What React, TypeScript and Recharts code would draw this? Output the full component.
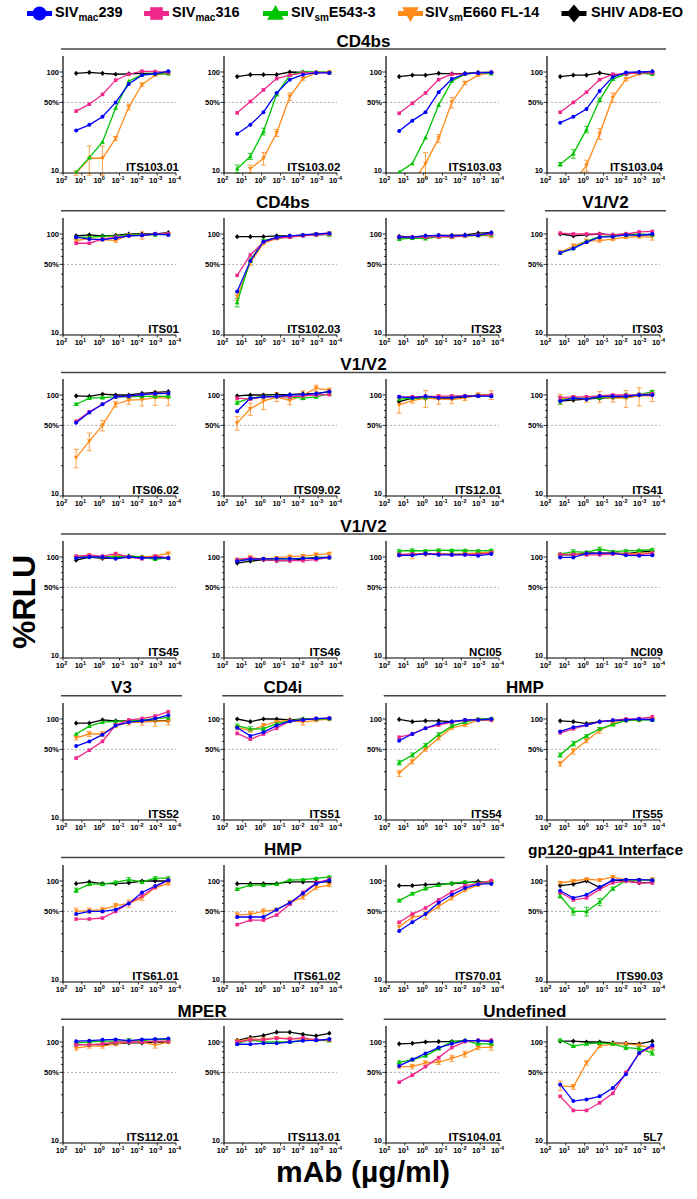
import { LineChart, Line, XAxis, YAxis, ReferenceLine, ErrorBar } from "recharts";

const FONT = '"Liberation Sans", Arial, Helvetica, sans-serif';

// antibody concentrations (µg/ml), 5-fold dilutions
const conc = [20, 4, 0.8, 0.16, 0.032, 0.0064, 0.00128, 0.000256];

const panelNames = [
  "ITS103.01", "ITS103.02", "ITS103.03", "ITS103.04",
  "ITS01", "ITS102.03", "ITS23", "ITS03",
  "ITS06.02", "ITS09.02", "ITS12.01", "ITS41",
  "ITS45", "ITS46", "NCI05", "NCI09",
  "ITS52", "ITS51", "ITS54", "ITS55",
  "ITS61.01", "ITS61.02", "ITS70.01", "ITS90.03",
  "ITS112.01", "ITS113.01", "ITS104.01", "5L7",
];

// %RLU, one row per panel in the order above
const mac239 = [
  [26.4, 30, 36, 50, 76, 93, 96, 102],
  [24.5, 30, 40, 62, 84, 94, 98, 98],
  [26, 33, 40, 63, 85, 96, 98, 99],
  [31.5, 36, 43, 65, 89, 99, 100, 101],
  [93, 89, 88, 91, 96, 97, 100, 98],
  [27, 54, 84, 93, 96, 98, 100, 102],
  [93, 93, 96, 97, 96, 97, 97, 103],
  [65, 72, 83, 93, 94, 98, 97, 100],
  [53, 67, 81, 96, 98, 101, 103, 104],
  [69, 93, 96, 97, 100, 101, 103, 108],
  [96, 94, 97, 94, 94, 97, 98, 97],
  [87, 93, 91, 97, 97, 97, 100, 100],
  [98, 100, 100, 96, 100, 98, 98, 98],
  [91, 95, 96, 96, 96, 97, 97, 99],
  [104, 104, 108, 105, 105, 105, 103, 107],
  [99, 99, 108, 109, 109, 104, 103, 104],
  [54, 60, 70, 86, 93, 96, 101, 109],
  [82, 68, 74, 86, 95, 98, 101, 102],
  [61, 71, 81, 90, 94, 98, 98, 100],
  [75, 83, 87, 94, 97, 98, 100, 98],
  [47, 50, 50, 52, 60, 77, 89, 102],
  [44, 44, 44, 52, 61, 75, 94, 102],
  [32, 39, 47, 61, 73, 85, 93, 94],
  [80, 68, 73, 87, 102, 103, 103, 102],
  [102, 103, 105, 106, 103, 106, 107, 108],
  [95, 95, 97, 97, 100, 103, 104, 107],
  [58, 67, 77, 88, 96, 103, 103, 101],
  [38, 26, 27, 29, 35, 48, 78, 93],
];

const mac316 = [
  [41, 48, 60, 83, 95, 102, 101, 99],
  [39.4, 51, 66.5, 86, 93, 98, 99, 98],
  [39, 49, 62, 84, 95, 96, 98, 99],
  [40, 50, 63, 84, 95, 96, 98, 98],
  [81, 81, 89, 93, 96, 97, 100, 100],
  [39, 62, 83, 91, 93, 96, 98, 100],
  [93, 93, 93, 94, 94, 96, 98, 100],
  [102, 100, 100, 100, 98, 100, 105, 106],
  [55, 68, 81, 96, 97, 101, 103, 104],
  [93, 91, 96, 96, 96, 98, 100, 101],
  [96, 96, 97, 97, 98, 98, 98, 100],
  [94, 96, 96, 98, 100, 100, 101, 103],
  [102, 104, 102, 108, 100, 96, 102, 98],
  [94, 98, 94, 92, 92, 92, 94, 99],
  [106, 107, 108, 108, 105, 106, 106, 110],
  [106, 106, 105, 105, 107, 107, 105, 109],
  [41, 49, 60, 87, 98, 101, 107, 118],
  [72, 63, 71, 81, 95, 98, 101, 102],
  [66, 71, 81, 87, 93, 97, 98, 98],
  [73, 80, 87, 94, 97, 100, 101, 105],
  [42, 42, 43, 50, 60, 71, 87, 102],
  [37, 41, 41, 46, 59, 77, 96, 104],
  [39, 47, 54, 65, 78, 90, 94, 101],
  [77, 65, 68, 83, 96, 100, 96, 96],
  [94, 94, 96, 100, 100, 100, 102, 102],
  [100, 105, 105, 109, 107, 110, 105, 105],
  [40, 47, 57, 70, 88, 101, 104, 104],
  [29, 21, 21, 25, 31, 50, 77, 90],
];

const smE543 = [
  [10.2, 14.2, 20.3, 44, 81, 94, 96, 96],
  [11, 14.6, 25.8, 60, 93, 101, 100, 99],
  [10.2, 12.4, 22.4, 47, 81, 95, 99, 96],
  [12.2, 15.5, 27, 53, 85, 96, 98, 95],
  [93, 93, 95, 96, 98, 98, 98, 100],
  [21, 55, 86, 91, 94, 98, 99, 98],
  [89, 91, 90, 94, 94, 96, 97, 98],
  [65, 72, 85, 94, 96, 98, 100, 98],
  [81, 93, 94, 96, 96, 97, 97, 97],
  [84, 93, 97, 97, 96, 93, 96, 103],
  [91, 93, 94, 96, 96, 98, 98, 98],
  [89, 93, 93, 94, 97, 98, 101, 108],
  [100, 100, 100, 100, 102, 100, 95, 98],
  [95, 96, 96, 96, 96, 97, 98, 99],
  [115, 116, 115, 117, 116, 116, 115, 116],
  [107, 113, 111, 120, 113, 115, 116, 118],
  [71, 85, 93, 95, 96, 98, 101, 103],
  [86, 80, 80, 90, 96, 100, 100, 101],
  [37, 44, 55, 70, 85, 93, 100, 101],
  [44, 57, 68, 80, 88, 97, 98, 98],
  [81, 93, 93, 97, 103, 98, 107, 107],
  [83, 91, 91, 93, 102, 103, 106, 110],
  [64, 75, 84, 91, 95, 98, 96, 99],
  [71, 50, 50, 62, 84, 102, 102, 102],
  [98, 100, 102, 102, 103, 103, 106, 106],
  [97, 105, 100, 100, 100, 104, 104, 103],
  [63, 67, 73, 86, 101, 103, 96, 96],
  [104, 91, 96, 98, 96, 88, 86, 78],
];

const smE660 = [
  [10, 14, 14, 22, 45, 75, 93, 97],
  [null, 11, 14, 25, 57, 86, 98, 100],
  [7, 8, 12.4, 22, 50, 78, 93, 98],
  [6, 8, 11.9, 24.5, 56, 85, 96, 98],
  [86, 90, 88, 86, 98, 97, 100, 100],
  [24, 52, 81, 90, 93, 97, 100, 102],
  [91, 91, 93, 94, 93, 96, 97, 96],
  [66, 76, 85, 86, 89, 93, 94, 93],
  [24, 35, 50, 81, 89, 90, 94, 93],
  [53, 73, 87, 96, 88, 100, 117, 112],
  [80, 88, 93, 91, 90, 93, 100, 100],
  [91, 93, 91, 96, 93, 93, 98, 98],
  [100, 104, 98, 104, 100, 100, 102, 109],
  [93, 98, 96, 98, 101, 102, 105, 108],
  [104, 106, 108, 106, 106, 108, 110, 112],
  [105, 107, 107, 109, 110, 107, 109, 110],
  [65, 71, 71, 86, 92, 93, 95, 95],
  [82, 77, 86, 94, 97, 93, 97, 100],
  [29, 38, 50, 65, 82, 87, 98, 98],
  [36, 48, 61, 77, 90, 97, 98, 100],
  [50, 51, 52, 57, 60, 68, 86, 94],
  [46, 47, 50, 52, 61, 69, 86, 91],
  [35, 44, 46, 56, 68, 81, 91, 98],
  [96, 100, 104, 102, 110, 102, 102, 104],
  [87, 91, 91, 96, 100, 100, 93, 100],
  [102, 107, 107, 110, 108, 107, 104, 104],
  [57, 57, 62, 63, 69, 76, 88, 89],
  [37, 36, 62, 91, 96, 96, 93, 87],
];

const shivAD8 = [
  [97, 99, 97, 95, 96, 97, 97, 98],
  [90, 94, 94, 94, 100, 99, 99, 99],
  [90, 93, 93, 97, 96, 97, 99, 99],
  [90, 93, 93, 98, 93, 96, 99, 101],
  [96, 98, 96, 97, 100, 100, 100, 103],
  [94, 94, 94, 96, 96, 97, 98, 100],
  [95, 93, 96, 97, 97, 98, 102, 103],
  [100, 96, 98, 100, 98, 100, 98, 98],
  [98, 97, 102, 100, 100, 104, 106, 108],
  [98, 100, 100, 101, 101, 103, 103, 108],
  [86, 93, 93, 93, 93, 96, 100, 100],
  [87, 89, 91, 93, 94, 96, 100, 100],
  [93, 100, 97, 98, 102, 100, 100, 98],
  [87, 91, 94, 92, 92, 96, 99, 99],
  [105, 107, 107, 107, 107, 107, 108, 110],
  [105, 105, 110, 109, 110, 108, 112, 114],
  [91, 91, 98, 96, 96, 96, 96, 96],
  [100, 94, 100, 100, 98, 100, 100, 100],
  [99, 94, 96, 96, 94, 97, 98, 98],
  [96, 94, 90, 94, 96, 97, 98, 100],
  [94, 98, 94, 94, 96, 100, 100, 100],
  [94, 94, 94, 94, 98, 98, 98, 98],
  [90, 90, 92, 93, 94, 96, 99, 94],
  [90, 93, 100, 86, 102, 100, 96, 97],
  [94, 94, 94, 96, 98, 98, 100, 100],
  [104, 111, 116, 125, 125, 119, 115, 122],
  [96, 97, 100, 101, 101, 103, 103, 103],
  [102, 102, 100, 100, 98, 97, 96, 102],
];

// error bars (± %RLU), null where none are visible
const smE660Err = [
  [0.5, 4.5, 4.5, 1, 3, 3, 2, 1],
  [0, 1, 2, 2, 5, 3, 2, 1],
  [0, 0, 3.5, 2, 6, 3, 2, 1],
  [0, 0, 1.5, 3, 6, 3, 1, 1],
  [2, 2, 3, 3, 3, 8, 2, 2],
  [2, 3, 3, 2, 2, 2, 2, 2],
  [3, 3, 3, 3, 3, 3, 3, 4],
  [3, 4, 4, 3, 3, 3, 3, 6],
  [5, 7, 6, 5, 8, 12, 15, 14],
  [8, 10, 15, 10, 8, 10, 8, 5],
  [14, 5, 18, 10, 8, 5, 5, 10],
  [10, 5, 6, 12, 8, 18, 20, 12],
  [2, 3, 3, 3, 2, 2, 2, 2],
  [3, 6, 3, 3, 3, 4, 5, 3],
  [3, 10, 3, 3, 3, 3, 3, 3],
  [3, 3, 3, 3, 3, 3, 3, 3],
  [3, 4, 4, 4, 5, 6, 10, 8],
  [4, 3, 4, 3, 3, 6, 3, 3],
  [2, 2, 2, 3, 3, 2, 2, 2],
  [2, 3, 3, 5, 3, 2, 2, 2],
  [4, 3, 3, 3, 5, 4, 3, 3],
  [3, 3, 3, 2, 3, 3, 4, 3],
  [3, 3, 4, 3, 3, 2, 2, 2],
  [3, 3, 3, 3, 3, 3, 3, 3],
  [4, 4, 4, 3, 3, 3, 6, 3],
  [3, 3, 3, 3, 3, 3, 3, 3],
  [2, 3, 3, 3, 5, 5, 4, 6],
  [4, 2, 3, 3, 3, 3, 4, 3],
];

const smE543Err = [
  null, [1, 1, 2, 2, 2, 1, 1, 1], null, [0.5, 1.5, 2, 2, 2, 1, 1, 1],
  null, [2, 3, 2, 2, 2, 1, 1, 1], null, null,
  [2, 2, 2, 2, 2, 2, 2, 2], [3, 3, 3, 3, 3, 3, 3, 3], null, [8, 3, 3, 3, 3, 6, 3, 3],
  null, null, [3, 4, 3, 3, 3, 3, 3, 3], [2, 5, 3, 5, 3, 3, 3, 3],
  null, [3, 4, 3, 3, 3, 2, 2, 2], [2, 2, 2, 3, 3, 2, 2, 2], [2, 3, 2, 2, 2, 2, 2, 2],
  [4, 3, 3, 3, 5, 3, 3, 3], [2, 2, 2, 2, 2, 2, 2, 2], [2, 2, 2, 2, 2, 2, 2, 2], [3, 4, 5, 5, 3, 2, 2, 2],
  [2, 2, 2, 2, 5, 2, 2, 2], null, [2, 2, 2, 2, 2, 2, 2, 2], [3, 2, 3, 3, 3, 4, 4, 4],
];

// epitope group titles and the [row, firstCol, lastCol] they span
const groupTitles = ["CD4bs", "CD4bs", "V1/V2", "V1/V2", "V1/V2", "V3", "CD4i", "HMP", "HMP", "gp120-gp41 Interface", "MPER", "Undefined"];
const groupSpans = [[0, 0, 3], [1, 0, 2], [1, 3, 3], [2, 0, 3], [3, 0, 3], [4, 0, 0], [4, 1, 1], [4, 2, 3], [5, 0, 2], [5, 3, 3], [6, 0, 1], [6, 2, 3]];

const xTicks = [100, 10, 1, 0.1, 0.01, 0.001, 0.0001];
const yTicks = [10, 20, 30, 40, 50, 60, 70, 80, 90, 100];

const series = [
  { key: "shiv", color: "#000000", shape: "diamond", values: shivAD8, err: null },
  { key: "e660", color: "#FF8C1A", shape: "down", values: smE660, err: smE660Err },
  { key: "e543", color: "#00C400", shape: "up", values: smE543, err: smE543Err },
  { key: "m316", color: "#F0288C", shape: "square", values: mac316, err: null },
  { key: "m239", color: "#0000FF", shape: "circle", values: mac239, err: null },
];

const COL_X = [63, 224.3, 385.7, 547];
const ROW_STEP = 161.7;
const PLOT_TOP = 56;
const PLOT_H = 117;

function Marker({ shape, x, y, r, color }) {
  if (shape === "circle") return <circle cx={x} cy={y} r={r} fill={color} />;
  if (shape === "square") return <rect x={x - r * 0.9} y={y - r * 0.9} width={r * 1.8} height={r * 1.8} fill={color} />;
  if (shape === "up")
    return <polygon points={`${x},${y - r * 1.2} ${x - r * 1.2},${y + r * 0.9} ${x + r * 1.2},${y + r * 0.9}`} fill={color} />;
  if (shape === "down")
    return <polygon points={`${x},${y + r * 1.2} ${x - r * 1.2},${y - r * 0.9} ${x + r * 1.2},${y - r * 0.9}`} fill={color} />;
  return <polygon points={`${x},${y - r * 1.3} ${x + r * 1.1},${y} ${x},${y + r * 1.3} ${x - r * 1.1},${y}`} fill={color} />;
}

const makeDot = (shape, color) => (props) => {
  const { cx, cy, index } = props;
  if (cx == null || cy == null || Number.isNaN(cy)) return <g key={index} />;
  return (
    <g key={index}>
      <Marker shape={shape} x={cx} y={cy} r={2} color={color} />
    </g>
  );
};

const XTick = ({ x, y, payload }) => {
  const exp = Math.round(Math.log10(payload.value));
  return (
    <g>
      <line x1={x} x2={x} y1={y} y2={y + 2.5} stroke="#000" strokeWidth={0.8} />
      <text x={x - 1.5} y={y + 9.8} textAnchor="middle" fontSize={7.5} fontWeight="bold" fontFamily={FONT} fill="#000">
        10
        <tspan dy={-3} fontSize={5.5}>
          {exp}
        </tspan>
      </text>
    </g>
  );
};

const YTick = ({ x, y, payload }) => {
  const v = payload.value;
  const label = v === 10 ? "10" : v === 50 ? "50%" : v === 100 ? "100" : "";
  return (
    <g>
      <line x1={x} x2={x - (label ? 3.5 : 2)} y1={y} y2={y} stroke="#000" strokeWidth={0.8} />
      {label && (
        <text
          x={x - 4}
          y={v === 10 ? y - 0.3 : y + 2.7}
          textAnchor="end"
          fontSize={7.5}
          fontWeight="bold"
          fontFamily={FONT}
          fill="#000"
        >
          {label}
        </text>
      )}
    </g>
  );
};

function Panel({ idx }) {
  const row = Math.floor(idx / 4);
  const col = idx % 4;
  const data = conc.map((x, i) => {
    const d = { x };
    series.forEach((s) => {
      d[s.key] = s.values[idx][i];
      if (s.err && s.err[idx]) d[s.key + "Err"] = s.err[idx][i];
    });
    return d;
  });

  return (
    <div style={{ position: "absolute", left: COL_X[col] - 40, top: PLOT_TOP + row * ROW_STEP - 2 }}>
      <LineChart width={160} height={PLOT_H + 25} data={data} margin={{ top: 2, right: 7, bottom: 0, left: 0 }}>
        <XAxis
          dataKey="x"
          type="number"
          scale="log"
          domain={[0.0001, 100]}
          reversed
          ticks={xTicks}
          interval={0}
          tick={<XTick />}
          tickLine={false}
          tickSize={0}
          tickMargin={0}
          height={23}
          axisLine={{ stroke: "#000", strokeWidth: 1.2 }}
          allowDataOverflow
        />
        <YAxis
          type="number"
          scale="log"
          domain={[10, 144]}
          ticks={yTicks}
          interval={0}
          tick={<YTick />}
          tickLine={false}
          tickSize={0}
          tickMargin={0}
          width={40}
          axisLine={{ stroke: "#000", strokeWidth: 1.2 }}
          allowDataOverflow
        />
        <ReferenceLine y={50} stroke="#999" strokeDasharray="2 2" strokeWidth={0.8} />
        {series.map((s) => (
          <Line
            key={s.key}
            dataKey={s.key}
            stroke={s.color}
            strokeWidth={1.3}
            dot={makeDot(s.shape, s.color)}
            activeDot={false}
            connectNulls={false}
            isAnimationActive={false}
          >
            {s.err && s.err[idx] && (
              <ErrorBar dataKey={s.key + "Err"} direction="y" width={2.5} stroke={s.color} strokeWidth={0.8} />
            )}
          </Line>
        ))}
      </LineChart>
    </div>
  );
}

function LegendText({ x, parts }) {
  return (
    <text x={x} y={17} fontSize={14.5} fontWeight="bold" fontFamily={FONT} fill="#000">
      {parts[0]}
      {parts[1] && (
        <tspan fontSize={10} dy={4}>
          {parts[1]}
        </tspan>
      )}
      {parts[2] && <tspan dy={parts[1] ? -4 : 0}>{parts[2]}</tspan>}
    </text>
  );
}

const legendItems = [
  { color: "#0000FF", shape: "circle", parts: ["SIV", "mac", "239"], mx: 39.5, tx: 55 },
  { color: "#F0288C", shape: "square", parts: ["SIV", "mac", "316"], mx: 156.5, tx: 172 },
  { color: "#00C400", shape: "up", parts: ["SIV", "sm", "E543-3"], mx: 275.5, tx: 291 },
  { color: "#FF8C1A", shape: "down", parts: ["SIV", "sm", "E660 FL-14"], mx: 410.5, tx: 425 },
  { color: "#000000", shape: "diamond", parts: ["SHIV AD8-EO"], mx: 574, tx: 591 },
];

export default function App() {
  return (
    <div style={{ position: "absolute", left: 0, top: 0, width: 697, height: 1199, background: "#fff", overflow: "hidden" }}>
      {panelNames.map((_, i) => (
        <Panel key={i} idx={i} />
      ))}
      <svg width={697} height={1199} style={{ position: "absolute", left: 0, top: 0, pointerEvents: "none" }}>
        {legendItems.map((it, i) => (
          <g key={i}>
            <line x1={it.mx - 12.5} x2={it.mx + 12.5} y1={13.5} y2={13.5} stroke={it.color} strokeWidth={5} />
            <Marker shape={it.shape} x={it.mx} y={13.5} r={7} color={it.color} />
            <LegendText x={it.tx} parts={it.parts} />
          </g>
        ))}
        {groupTitles.map((t, i) => {
          const [row, c0, c1] = groupSpans[i];
          const x1 = COL_X[c0] - 2;
          const x2 = COL_X[c1] + 119;
          const ly = 49 + row * ROW_STEP;
          return (
            <g key={i}>
              <line x1={x1} x2={x2} y1={ly} y2={ly} stroke="#444" strokeWidth={1.5} />
              <text
                x={(x1 + x2) / 2}
                y={ly - 2.5}
                textAnchor="middle"
                fontSize={t.length > 12 ? 15.5 : 17}
                fontWeight="bold"
                fontFamily={FONT}
                fill="#000"
              >
                {t}
              </text>
            </g>
          );
        })}
        {panelNames.map((n, i) => {
          const row = Math.floor(i / 4);
          const col = i % 4;
          return (
            <text
              key={n}
              x={COL_X[col] + 116}
              y={PLOT_TOP + row * ROW_STEP + PLOT_H - 2}
              textAnchor="end"
              fontSize={11.5}
              fontWeight="bold"
              fontFamily={FONT}
              fill="#000"
            >
              {n}
            </text>
          );
        })}
        <text
          transform="translate(35,602) rotate(-90)"
          textAnchor="middle"
          fontSize={32}
          fontWeight="bold"
          fontFamily={FONT}
          fill="#000"
        >
          %RLU
        </text>
        <text x={363} y={1182} textAnchor="middle" fontSize={30} fontWeight="bold" fontFamily={FONT} fill="#000">
          mAb (µg/ml)
        </text>
      </svg>
    </div>
  );
}
